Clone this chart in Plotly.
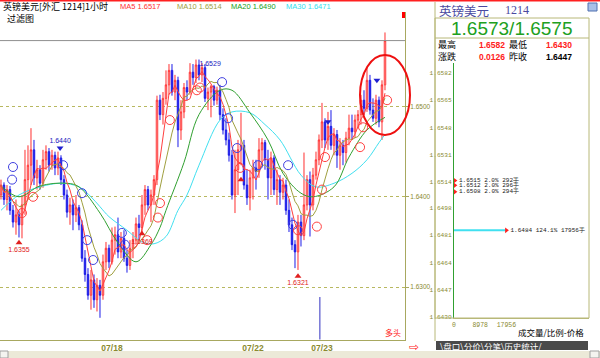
import plotly.graph_objects as go
import pandas as pd

W, H = 600, 358

# ---------------- data (hourly GBP/USD candles) ----------------
opens = [1.6402, 1.6413, 1.6397, 1.6408, 1.6385, 1.6372, 1.6380, 1.6369, 1.6391, 1.6419,
         1.6435, 1.6452, 1.6421, 1.6430, 1.6415, 1.6441, 1.6450, 1.6435, 1.6446, 1.6432,
         1.6443, 1.6419, 1.6402, 1.6383, 1.6391, 1.6380, 1.6388, 1.6369, 1.6332, 1.6314,
         1.6291, 1.6308, 1.6286, 1.6302, 1.6291, 1.6328, 1.6343, 1.6328, 1.6352, 1.6358,
         1.6339, 1.6354, 1.6332, 1.6324, 1.6343, 1.6352, 1.6370, 1.6366, 1.6391, 1.6408,
         1.6391, 1.6402, 1.6419, 1.6507, 1.6491, 1.6509, 1.6524, 1.6540, 1.6516, 1.6529,
         1.6474, 1.6494, 1.6521, 1.6516, 1.6538, 1.6532, 1.6546, 1.6535, 1.6543, 1.6509,
         1.6516, 1.6522, 1.6507, 1.6518, 1.6491, 1.6474, 1.6463, 1.6446, 1.6402, 1.6430,
         1.6452, 1.6457, 1.6413, 1.6399, 1.6421, 1.6432, 1.6428, 1.6452, 1.6460, 1.6441,
         1.6421, 1.6443, 1.6408, 1.6419, 1.6405, 1.6413, 1.6385, 1.6369, 1.6347, 1.6339,
         1.6372, 1.6357, 1.6391, 1.6419, 1.6391, 1.6424, 1.6441, 1.6463, 1.6483, 1.6463,
         1.6478, 1.6457, 1.6469, 1.6446, 1.6457, 1.6449, 1.6465, 1.6476, 1.6472, 1.6485,
         1.6491, 1.6507, 1.6498, 1.6529, 1.6496, 1.6487, 1.6507, 1.6483, 1.6524]
closes = [1.6413, 1.6397, 1.6408, 1.6385, 1.6372, 1.6380, 1.6369, 1.6391, 1.6419, 1.6435,
          1.6452, 1.6421, 1.6430, 1.6415, 1.6441, 1.6450, 1.6435, 1.6446, 1.6432, 1.6443,
          1.6419, 1.6402, 1.6383, 1.6391, 1.6380, 1.6388, 1.6369, 1.6332, 1.6314, 1.6291,
          1.6308, 1.6286, 1.6302, 1.6291, 1.6328, 1.6343, 1.6328, 1.6352, 1.6358, 1.6339,
          1.6354, 1.6332, 1.6324, 1.6343, 1.6352, 1.6370, 1.6366, 1.6391, 1.6408, 1.6391,
          1.6402, 1.6419, 1.6507, 1.6491, 1.6509, 1.6524, 1.6540, 1.6516, 1.6529, 1.6474,
          1.6494, 1.6521, 1.6516, 1.6538, 1.6532, 1.6546, 1.6535, 1.6543, 1.6509, 1.6516,
          1.6522, 1.6507, 1.6518, 1.6491, 1.6474, 1.6463, 1.6446, 1.6402, 1.6430, 1.6452,
          1.6457, 1.6413, 1.6399, 1.6421, 1.6432, 1.6428, 1.6452, 1.6460, 1.6441, 1.6421,
          1.6443, 1.6408, 1.6419, 1.6405, 1.6413, 1.6385, 1.6369, 1.6347, 1.6339, 1.6372,
          1.6357, 1.6391, 1.6419, 1.6391, 1.6424, 1.6441, 1.6463, 1.6483, 1.6463, 1.6478,
          1.6457, 1.6469, 1.6446, 1.6457, 1.6449, 1.6465, 1.6476, 1.6472, 1.6485, 1.6491,
          1.6507, 1.6498, 1.6529, 1.6496, 1.6487, 1.6507, 1.6483, 1.6524, 1.6573]
highs = [1.6419, 1.6416, 1.6413, 1.6412, 1.6391, 1.6397, 1.6385, 1.6402, 1.6452, 1.6457,
         1.6476, 1.6463, 1.6441, 1.6435, 1.6452, 1.6457, 1.6454, 1.6452, 1.6450, 1.6450,
         1.6446, 1.6424, 1.6408, 1.6399, 1.6397, 1.6402, 1.6391, 1.6374, 1.6341, 1.6321,
         1.6319, 1.6314, 1.6310, 1.6308, 1.6336, 1.6350, 1.6347, 1.6366, 1.6367, 1.6377,
         1.6361, 1.6363, 1.6341, 1.6352, 1.6361, 1.6377, 1.6380, 1.6402, 1.6413, 1.6412,
         1.6408, 1.6424, 1.6512, 1.6513, 1.6516, 1.6540, 1.6547, 1.6547, 1.6535, 1.6533,
         1.6507, 1.6526, 1.6529, 1.6548, 1.6547, 1.6552, 1.6552, 1.6548, 1.6547, 1.6521,
         1.6524, 1.6524, 1.6522, 1.6524, 1.6498, 1.6487, 1.6471, 1.6452, 1.6452, 1.6463,
         1.6493, 1.6463, 1.6430, 1.6430, 1.6441, 1.6441, 1.6465, 1.6465, 1.6463, 1.6452,
         1.6450, 1.6446, 1.6430, 1.6424, 1.6421, 1.6419, 1.6397, 1.6377, 1.6352, 1.6380,
         1.6380, 1.6449, 1.6424, 1.6428, 1.6432, 1.6450, 1.6469, 1.6504, 1.6487, 1.6494,
         1.6496, 1.6476, 1.6474, 1.6465, 1.6463, 1.6472, 1.6491, 1.6491, 1.6491, 1.6496,
         1.6513, 1.6518, 1.6544, 1.6535, 1.6509, 1.6513, 1.6511, 1.6529, 1.6582]
lows = [1.6397, 1.6391, 1.6385, 1.6380, 1.6366, 1.6358, 1.6355, 1.6354, 1.6380, 1.6397,
        1.6413, 1.6413, 1.6408, 1.6408, 1.6410, 1.6430, 1.6428, 1.6430, 1.6424, 1.6424,
        1.6413, 1.6397, 1.6377, 1.6369, 1.6363, 1.6372, 1.6363, 1.6328, 1.6306, 1.6286,
        1.6275, 1.6277, 1.6273, 1.6266, 1.6286, 1.6319, 1.6321, 1.6325, 1.6336, 1.6332,
        1.6332, 1.6328, 1.6316, 1.6319, 1.6332, 1.6347, 1.6352, 1.6361, 1.6380, 1.6385,
        1.6372, 1.6391, 1.6413, 1.6485, 1.6480, 1.6502, 1.6513, 1.6512, 1.6507, 1.6455,
        1.6463, 1.6487, 1.6507, 1.6513, 1.6524, 1.6526, 1.6529, 1.6527, 1.6505, 1.6496,
        1.6488, 1.6501, 1.6502, 1.6485, 1.6469, 1.6457, 1.6439, 1.6397, 1.6382, 1.6402,
        1.6435, 1.6408, 1.6391, 1.6385, 1.6397, 1.6408, 1.6421, 1.6435, 1.6430, 1.6397,
        1.6402, 1.6402, 1.6391, 1.6391, 1.6397, 1.6380, 1.6361, 1.6341, 1.6321, 1.6319,
        1.6345, 1.6352, 1.6385, 1.6356, 1.6385, 1.6419, 1.6435, 1.6454, 1.6454, 1.6452,
        1.6452, 1.6446, 1.6432, 1.6430, 1.6435, 1.6438, 1.6457, 1.6463, 1.6465, 1.6476,
        1.6480, 1.6491, 1.6494, 1.6491, 1.6483, 1.6480, 1.6477, 1.6463, 1.6518]
candle_idx = list(range(len(closes)))

# moving averages (MA20, MA30)
ma20_idx = [0, 6, 13, 22, 26, 33, 39, 45, 50, 53, 55, 61, 66, 73, 77, 83, 89, 94, 100, 104, 111, 116, 122, 128]
ma20_val = [1.6412, 1.6400, 1.6412, 1.6415, 1.6411, 1.6382, 1.6349, 1.6328, 1.6347, 1.6366, 1.6385, 1.6438,
            1.6491, 1.6518, 1.6518, 1.6493, 1.6463, 1.6426, 1.6404, 1.6400, 1.6411, 1.6444, 1.6474, 1.6488]
ma30_idx = [0, 6, 13, 20, 26, 30, 33, 36, 42, 47, 51, 55, 59, 62, 66, 73, 77, 83, 88, 93, 100, 105, 111, 117, 122, 126, 128]
ma30_val = [1.6385, 1.6402, 1.6411, 1.6415, 1.6411, 1.6400, 1.6389, 1.6378, 1.6363, 1.6350, 1.6348, 1.6356,
            1.6385, 1.6402, 1.6435, 1.6485, 1.6494, 1.6493, 1.6480, 1.6463, 1.6424, 1.6411, 1.6415, 1.6426,
            1.6441, 1.6460, 1.6469]

# signal circles
sig_blue_x = [3.7, 4, 20.7, 27, 28.7, 30.7, 40.3, 41.3, 73.7, 75.7, 78.7, 85.7, 95.7, 97.3]
sig_blue_y = [1.6419, 1.6433, 1.6435, 1.6404, 1.6352, 1.6330, 1.6360, 1.6347, 1.6527, 1.6487, 1.6454, 1.6435, 1.6435, 1.6369]
sig_red_x = [7, 10.7, 48.7, 52.3, 53, 56.3, 65.3, 66.3, 79.7, 99, 105.3, 107, 108, 119.7, 120.7, 128.7]
sig_red_y = [1.6382, 1.6400, 1.6352, 1.6377, 1.6393, 1.6485, 1.6518, 1.6521, 1.6432, 1.6363, 1.6367, 1.6408,
             1.6444, 1.6455, 1.6477, 1.6507]
tri_down_x = [109, 125.3, 19.7]
tri_down_y = [1.6483, 1.6529, 1.6454]
tri_up_x = [80, 6, 99, 47]
tri_up_y = [1.6419, 1.6349, 1.6312, 1.6359]

# swing labels
swing_x = [6, 19.7, 69.7, 47, 99]
swing_y = [1.6341, 1.6462, 1.6547, 1.6350, 1.6304]
swing_text = ["1.6355", "1.6440", "1.6529", "1.6369", "1.6321"]
swing_color = ["#e02020", "#2020c0", "#2020c0", "#e02020", "#e02020"]

# axis ticks
date_pos = [37, 84, 107]
date_text = ["07/18", "07/22", "07/23"]
price_ticks = [1.63, 1.64, 1.65]
price_text = ["1.6300", "1.6400", "1.6500"]

# depth panel
depth_ticks = [1.6582, 1.6565, 1.6548, 1.6531, 1.6514, 1.6498, 1.6481, 1.6464, 1.6447, 1.6430]
depth_ticktext = ["1.6582", "1.6565", "1.6548", "1.6531", "1.6514", "1.6498", "1.6481", "1.6464", "1.6447", "1.6430"]
vol_ticks = [0, 8978, 17956]
vol_ticktext = ["0", "8978", "17956"]
depth_price = [1.6515, 1.6512, 1.6508, 1.6484]
depth_vol = [292, 296, 294, 17956]
depth_pct = ["2.0%", "2.0%", "2.0%", "124.1%"]

ma_legend = [("MA5 1.6517", "#ff3030", 118), ("MA10 1.6514", "#a0a040", 175),
             ("MA20 1.6490", "#20a020", 229), ("MA30 1.6471", "#30e0f0", 284)]


def px(x):
    return x / W


def py(y):
    return 1 - y / H


OLIVE = "#a8a860"
TXT_OLIVE = "#8a8a30"

ma5 = pd.Series(closes).rolling(5, min_periods=1).mean()
ma10 = pd.Series(closes).rolling(10, min_periods=1).mean()

fig = go.Figure()
fig.add_trace(go.Scatter(x=ma30_idx, y=ma30_val, mode="lines", line=dict(color="#40e0f0", width=1, shape="spline"),
                         hoverinfo="skip"))
fig.add_trace(go.Scatter(x=ma20_idx, y=ma20_val, mode="lines", line=dict(color="#30a030", width=1, shape="spline"),
                         hoverinfo="skip"))
fig.add_trace(go.Candlestick(x=candle_idx, open=opens, high=highs, low=lows, close=closes,
                             increasing=dict(line=dict(color="#ff3030", width=1), fillcolor="white"),
                             decreasing=dict(line=dict(color="#1c1ce8", width=1), fillcolor="#1c1ce8"),
                             whiskerwidth=0, hoverinfo="skip"))
fig.add_trace(go.Scatter(x=candle_idx, y=ma10, mode="lines", line=dict(color="#a0a040", width=1), hoverinfo="skip"))
fig.add_trace(go.Scatter(x=candle_idx, y=ma5, mode="lines", line=dict(color="#ff4040", width=1), hoverinfo="skip"))
fig.add_trace(go.Scatter(x=sig_blue_x, y=sig_blue_y, mode="markers",
                         marker=dict(symbol="circle-open", size=9, color="#4040e0", line=dict(width=1)),
                         hoverinfo="skip"))
fig.add_trace(go.Scatter(x=sig_red_x, y=sig_red_y, mode="markers",
                         marker=dict(symbol="circle-open", size=9, color="#ff4040", line=dict(width=1)),
                         hoverinfo="skip"))
fig.add_trace(go.Scatter(x=tri_down_x, y=tri_down_y, mode="markers",
                         marker=dict(symbol="triangle-down", size=6, color="#2020d0"), hoverinfo="skip"))
fig.add_trace(go.Scatter(x=tri_up_x, y=tri_up_y, mode="markers",
                         marker=dict(symbol="triangle-up", size=6, color="#e02020"), hoverinfo="skip"))
fig.add_trace(go.Scatter(x=swing_x, y=swing_y, mode="text", text=swing_text, cliponaxis=False,
                         textfont=dict(family="Liberation Sans", size=7, color=swing_color), hoverinfo="skip"))

# depth panel traces
for p, v, pc in zip(depth_price, depth_vol, depth_pct):
    big = v == max(depth_vol)
    fig.add_trace(go.Scatter(x=[0, v], y=[p, p], mode="lines", xaxis="x2", yaxis="y2",
                             line=dict(color="#40e0f0" if big else "#ff3030", width=2),
                             hoverinfo="skip"))
    fig.add_trace(go.Scatter(x=[v], y=[p], mode="markers+text", xaxis="x2", yaxis="y2", cliponaxis=False,
                             text=[f"{p:.4f} {pc} {v}手"], textposition="middle right",
                             textfont=dict(family="Liberation Mono", size=6, color="#202020"),
                             marker=dict(symbol="triangle-right", size=5, color="#ff2020"),
                             hoverinfo="skip"))

shapes = []
# top red line
shapes.append(dict(type="line", xref="paper", yref="paper", x0=0, x1=1, y0=py(0.5), y1=py(0.5),
                   line=dict(color="#ff2020", width=2)))
# current price line
shapes.append(dict(type="line", xref="paper", yref="y", x0=0, x1=px(405), y0=closes[-1], y1=closes[-1],
                   line=dict(color="#909090", width=1)))
# red marker at top of main right border
shapes.append(dict(type="rect", xref="paper", yref="paper", x0=px(402), x1=px(405), y0=py(18), y1=py(12),
                   line=dict(width=0), fillcolor="#ff0000"))
# blue vertical line
shapes.append(dict(type="line", xref="x", yref="y", x0=106.3, x1=106.3, y0=1.6242, y1=1.6289,
                   line=dict(color="#3030c0", width=1)))
# red ellipse
shapes.append(dict(type="circle", xref="paper", yref="paper", x0=px(360), x1=px(410), y0=py(135), y1=py(55),
                   line=dict(color="#ee1010", width=2)))
# right panel frames
shapes.append(dict(type="line", xref="paper", yref="paper", x0=px(435), x1=px(435), y0=py(341), y1=py(2),
                   line=dict(color="#b8b878", width=1)))
shapes.append(dict(type="rect", xref="paper", yref="paper", x0=px(435), x1=px(589), y0=py(318), y1=py(18),
                   line=dict(color="#b8b878", width=1)))
shapes.append(dict(type="line", xref="paper", yref="paper", x0=px(435), x1=px(589), y0=py(38), y1=py(38),
                   line=dict(color="#b8b878", width=1)))
# top-right icon
shapes.append(dict(type="rect", xref="paper", yref="paper", x0=px(588), x1=px(597), y0=py(11), y1=py(3),
                   line=dict(color="#5070b0", width=1), fillcolor="#a8c0e8"))
# tab bar
shapes.append(dict(type="rect", xref="paper", yref="paper", x0=px(436), x1=px(588), y0=py(350), y1=py(341),
                   line=dict(width=0), fillcolor="#4a4a4a"))
# bottom scroll strips
shapes.append(dict(type="rect", xref="paper", yref="paper", x0=0, x1=1, y0=0, y1=py(351),
                   line=dict(width=0), fillcolor="#ece9d8"))
shapes.append(dict(type="rect", xref="paper", yref="paper", x0=0, x1=px(8), y0=0, y1=py(351),
                   line=dict(color="#a0a0a0", width=1), fillcolor="#f4f4f0"))
shapes.append(dict(type="rect", xref="paper", yref="paper", x0=px(590), x1=px(599), y0=0, y1=py(351),
                   line=dict(color="#a0a0a0", width=1), fillcolor="#f4f4f0"))

ann = []


def text(x, y, s, color="#000000", size=9, family="Noto Sans CJK SC", anchor="left", weight="normal"):
    ann.append(dict(xref="paper", yref="paper", x=px(x), y=py(y), text=s, showarrow=False,
                    xanchor=anchor, yanchor="middle",
                    font=dict(family=family, size=size, color=color, weight=weight)))


text(1, 6, "英镑美元[外汇 1214]1小时", size=9)
for s, c, x in ma_legend:
    text(x, 7, s, color=c, size=7.5, family="Liberation Sans")
text(5, 18, "过滤图", size=9)
text(403, 332, "多头", color="#ff2020", size=8, anchor="right")
text(407, 347, "⇨", color="#ff2020", size=12, family="DejaVu Sans")

# right panel texts
text(437, 10, "英镑美元", color="#4a4aa0", size=12.5)
text(503, 10, "1214", color="#4a4aa0", size=12, family="Liberation Serif")
text(512, 28, "1.6573/1.6575", color="#20a020", size=19, family="Liberation Sans", anchor="center")
text(436, 44.5, "最高", size=9)
text(477, 44.5, "1.6582", color="#ff2020", size=8.5, family="Liberation Sans", weight="bold")
text(507, 44.5, "最低", size=9)
text(544, 44.5, "1.6430", color="#ff2020", size=8.5, family="Liberation Sans", weight="bold")
text(436, 57, "涨跌", size=9)
text(477, 57, "0.0126", color="#ff2020", size=8.5, family="Liberation Sans", weight="bold")
text(507, 57, "昨收", size=9)
text(544, 57, "1.6447", color="#000000", size=8.5, family="Liberation Sans", weight="bold")
text(586, 332, "成交量/比例-价格", size=8.5, anchor="right")
text(438, 345.5, "\\盘口\\分价\\分笔\\历史统计/", color="#ffffff", size=8.5)

fig.update_layout(
    width=W, height=H, margin=dict(l=0, r=0, t=0, b=0, pad=0, autoexpand=False),
    paper_bgcolor="white", plot_bgcolor="white", showlegend=False,
    shapes=shapes, annotations=ann,
    xaxis=dict(domain=[0, px(405)], range=[-0.33, 134.67], anchor="y", automargin=False,
               rangeslider=dict(visible=False), showgrid=False, zeroline=False,
               showline=True, linecolor=OLIVE, linewidth=1,
               tickvals=date_pos, ticktext=date_text, ticks="",
               tickfont=dict(family="Liberation Sans", size=8.5, color=TXT_OLIVE, weight="bold")),
    yaxis=dict(domain=[py(340), py(12)], range=[1.624142, 1.660465], anchor="x", side="right", automargin=False,
               showline=True, linecolor=OLIVE, linewidth=1,
               showgrid=True, gridcolor="#b8b860", griddash="dot", gridwidth=1, zeroline=False,
               tickvals=price_ticks, ticktext=price_text, ticks="outside", ticklen=3, tickcolor=OLIVE,
               tickfont=dict(family="Liberation Sans", size=6.5, color=TXT_OLIVE)),
    xaxis2=dict(domain=[px(454), px(589)], range=[0, 46272], anchor="y2", automargin=False,
                showgrid=False, zeroline=False, showline=True, linecolor="#b8b878",
                tickvals=vol_ticks, ticktext=vol_ticktext, ticks="",
                tickfont=dict(family="Liberation Mono", size=6.5, color=TXT_OLIVE)),
    yaxis2=dict(domain=[py(318), py(63)], range=[1.64294, 1.65882], anchor="x2", automargin=False,
                showgrid=False, zeroline=False, showline=True, linecolor="#30a030",
                tickvals=depth_ticks, ticktext=depth_ticktext, ticks="",
                tickfont=dict(family="Liberation Mono", size=6.2, color=TXT_OLIVE)),
)

fig.write_html("out.html", config={"displayModeBar": False},
               post_script="document.body.style.margin='0';document.body.style.overflow='hidden';")
